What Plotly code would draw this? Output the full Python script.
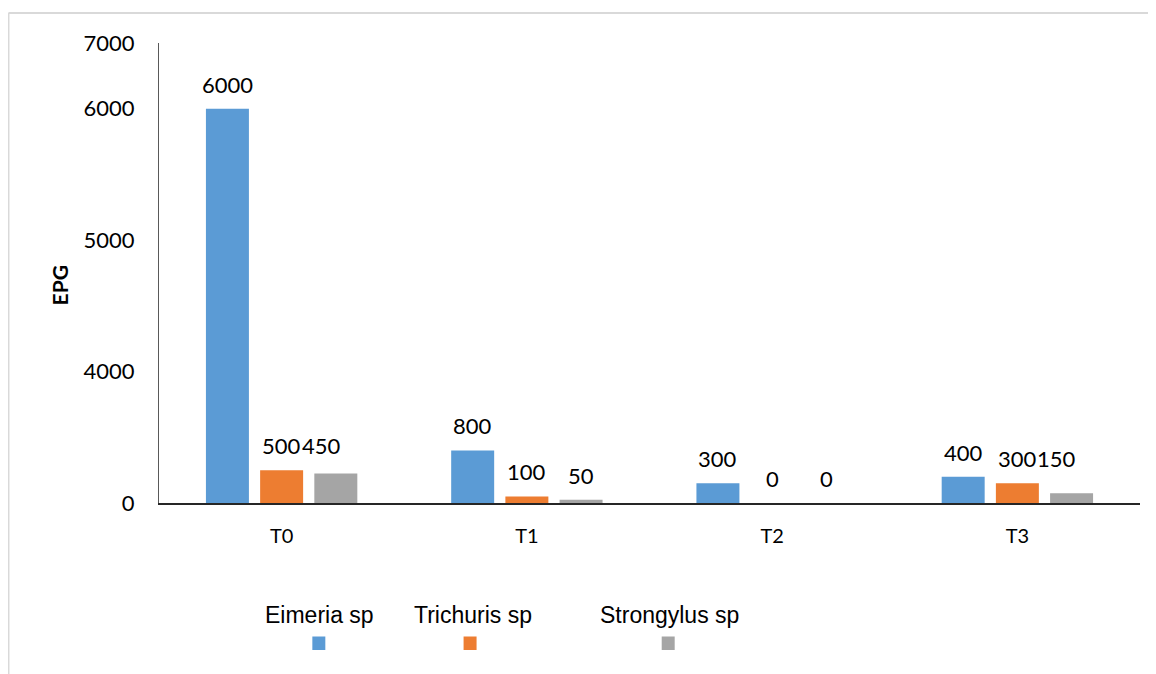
import plotly.graph_objects as go

categories = ["T0", "T1", "T2", "T3"]
series_names = ["Eimeria sp", "Trichuris sp", "Strongylus sp"]
eimeria = [6000, 800, 300, 400]
trichuris = [500, 100, 0, 300]
strongylus = [450, 50, 0, 150]
series_values = [eimeria, trichuris, strongylus]
colors = ["#5B9BD5", "#ED7D31", "#A5A5A5"]
y_tick_vals = [0, 2000, 4000, 6000, 7000]
y_tick_text = ["0", "4000", "5000", "6000", "7000"]

# labels that the original chart moved to sit right after the neighbouring label
nudged_labels = {(2, "T0"), (2, "T3")}
LABEL_W = 39.5  # px width of a 3-digit label

OFF = 8  # default page body margin
FIG_W, FIG_H = 1156 - OFF, 674 - OFF
# plot area in page pixels
P_L, P_R, P_T, P_B = 158.6, 1140, 43, 503
M_L, M_R, M_T, M_B = P_L - OFF, FIG_W - (P_R - OFF), P_T - OFF, FIG_H - (P_B - OFF)
PW = P_R - P_L
PH = P_B - P_T
BARGAP = 0.337
slot = PW / len(categories) * (1 - BARGAP) / len(series_names)

FONT = "Lato"
fig = go.Figure()
for name, vals, col in zip(series_names, series_values, colors):
    fig.add_trace(go.Bar(x=categories, y=vals, name=name, marker_color=col,
                         marker_line_width=0, showlegend=False))

annotations = []
for i, vals in enumerate(series_values):
    for j, (c, v) in enumerate(zip(categories, vals)):
        xs = (i - 1) * slot
        ypos = v
        if (i, c) in nudged_labels:
            prev = series_values[i - 1][j]
            ypos = prev
            xs = (i - 2) * slot + LABEL_W
        annotations.append(dict(x=c, y=ypos, xref="x", yref="y", text=str(v),
                                showarrow=False, yanchor="bottom", xanchor="center",
                                xshift=xs, yshift=9,
                                font=dict(family=FONT, size=22, color="#000000")))

def px_x(p):
    return (p - P_L) / PW

def px_y(p):
    return (P_B - p) / PH

# axis title
annotations.append(dict(x=px_x(59), y=px_y(285), xref="paper", yref="paper", text="<b>EPG</b>",
                        textangle=-90, showarrow=False, xanchor="center", yanchor="middle",
                        font=dict(family=FONT, size=21, color="#000000")))

# custom legend: text above square
leg_text_x = [319, 473, 669]
leg_sq_x = [318.5, 469.8, 668]
shapes = []
for name, col, tx, sx in zip(series_names, colors, leg_text_x, leg_sq_x):
    annotations.append(dict(x=px_x(tx), y=px_y(615), xref="paper", yref="paper", text=name,
                            showarrow=False, xanchor="center", yanchor="middle",
                            font=dict(family="Liberation Sans", size=23, color="#000000")))
    shapes.append(dict(type="rect", xref="paper", yref="paper",
                       x0=px_x(sx - 6.5), x1=px_x(sx + 6.5),
                       y0=px_y(650), y1=px_y(636.5),
                       fillcolor=col, line_width=0))

# outer frame (top and left visible)
shapes.append(dict(type="line", xref="paper", yref="paper", x0=px_x(8), x1=px_x(1170),
                   y0=px_y(13), y1=px_y(13), line=dict(color="#D9D9D9", width=2)))
shapes.append(dict(type="line", xref="paper", yref="paper", x0=px_x(8), x1=px_x(8),
                   y0=px_y(13), y1=px_y(690), line=dict(color="#D9D9D9", width=2)))

fig.update_layout(
    width=FIG_W, height=FIG_H,
    margin=dict(l=M_L, r=M_R, t=M_T, b=M_B, pad=0),
    paper_bgcolor="white", plot_bgcolor="white",
    barmode="group", bargap=BARGAP, bargroupgap=0.207,
    annotations=annotations, shapes=shapes,
    font=dict(family=FONT, color="#000000"),
)
fig.update_xaxes(showgrid=False, showline=True, linecolor="#262626", linewidth=1.5,
                 ticks="", tickfont=dict(family=FONT, size=20, color="#000000"),
                 ticklabelstandoff=14, zeroline=False)
fig.update_yaxes(range=[0, 7000], tickvals=y_tick_vals, ticktext=y_tick_text,
                 showgrid=False, showline=True, linecolor="#595959", linewidth=1,
                 ticks="", tickfont=dict(family=FONT, size=22, color="#000000"),
                 ticklabelstandoff=19, zeroline=False)

fig.write_html("out.html")
